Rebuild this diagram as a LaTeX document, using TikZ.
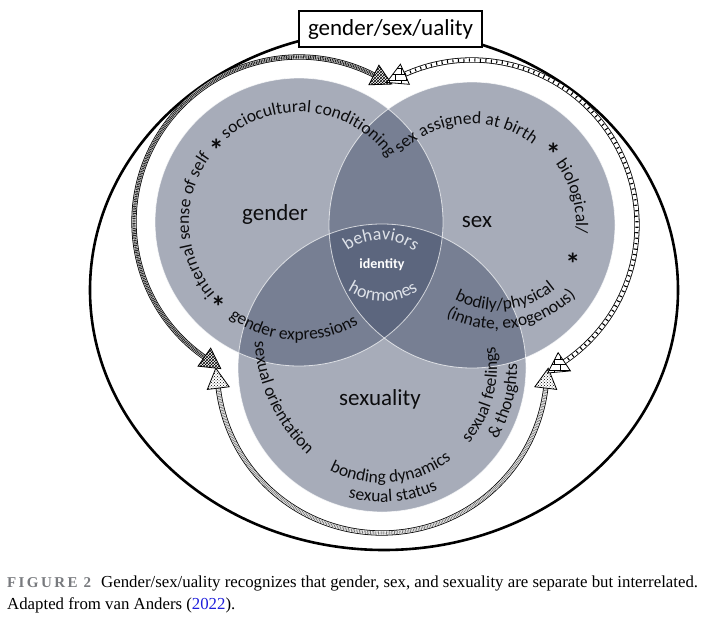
\documentclass[tikz,border=0pt]{standalone}
\usepackage{fontspec}
\setmainfont{Carlito}
\newfontfamily\capfont{Liberation Serif}
\usetikzlibrary{calc,patterns,decorations.text}
\definecolor{circfill}{RGB}{60,72,100}
\definecolor{txtdark}{RGB}{12,12,14}
\definecolor{lenstxt}{RGB}{222,226,233}
\definecolor{capgray}{RGB}{120,122,126}
\definecolor{refblue}{RGB}{30,30,220}
\newcommand{\curvefont}{\fontsize{17.5}{17.5}\selectfont}
\newcommand{\lensfont}{\fontsize{18}{18}\selectfont}
\newcommand{\bigfont}{\fontsize{23}{23}\selectfont}
\newcommand{\starfont}{\bfseries\fontsize{30}{30}\selectfont}
\def\arctext[#1](#2)(#3:#4:#5)#6{\path[decorate,decoration={text along path,text align=center,#1,text={#6}}] ($(#2)+(#3:#5pt)$) arc (#3:#4:#5pt);}
\def\arrowhd(#1)(#2)#3{\draw[line width=0.8pt,pattern=#3,preaction={fill=white}] ($(#1)+(#2+90:11pt)$) -- ($(#1)+(#2:20pt)$) -- ($(#1)+(#2-90:11pt)$) -- cycle;}
\tikzset{
  venn/.style={fill=circfill, fill opacity=0.45},
  rim/.style={draw=white, draw opacity=0.7, line width=0.8pt},
  rail/.style={draw=black, solid, line width=0.8pt, double=white, double distance=3.6pt},
  gshaft/.style={draw=black!85, line width=3.2pt, dash pattern=on 1pt off 0.7pt, preaction={rail}},
  sshaft/.style={draw=black, line width=3.2pt, dash pattern=on 1.1pt off 4.4pt, preaction={rail}},
  xshaft/.style={draw=black!55, line width=3.2pt, dash pattern=on 0.7pt off 0.9pt, preaction={rail}},
  bigname/.style={text=txtdark, font=\bigfont},
  star/.style={text=txtdark, font=\starfont, inner sep=0pt},
}

\begin{document}
\begin{tikzpicture}[x=1pt,y=1pt]
		%%%%% START %%%%%
		\useasboundingbox (0,0) rectangle (712,-618);
		
		\coordinate (gC) at (299,-222);
		\coordinate (sC) at (472,-225);
		\coordinate (xC) at (382,-368);
		\coordinate (oC) at (419,-334);
		\coordinate (bC) at (497,-218);
		\coordinate (hiC) at (381,-296);
		\coordinate (loC) at (383,-237);
		
		% the three circles
		\fill[venn] (gC) circle (144pt);
		\fill[venn] (sC) circle (143pt);
		\fill[venn] (xC) circle (144pt);
		\draw[rim] (gC) circle (144pt);
		\draw[rim] (sC) circle (143pt);
		\draw[rim] (xC) circle (144pt);
		
		% outer loop and title
		\draw[line width=2.6pt] (384,-290) ellipse [x radius=294pt, y radius=260pt];
		\node[draw, line width=2.8pt, fill=white, minimum width=183pt, minimum height=36pt, font=\bigfont] (title) at (390.5,-29) {gender/sex/uality};
		
		\node[bigname] (gender) at (275,-214) {gender};
		\node[bigname] (sex) at (477,-222) {sex};
		\node[bigname] (sexuality) at (380,-399) {sexuality};
		\node[text=white, font=\bfseries\fontsize{14}{14}\selectfont] (identity) at (382,-265) {identity};
		
		% gender
		\arctext[text color=txtdark](gC)(272:92:110){|\curvefont|internal sense of self}
		\arctext[text color=txtdark](gC)(173:-6:110){|\curvefont|sociocultural conditioning}
		\node[star] (starG1) at ($(gC)+(136.5:114pt)+(0,-6)$) {*};
		\arctext[text color=txtdark](gC)(207:327:118){|\curvefont|gender expressions}
		\node[star] (starG2) at ($(gC)+(224.5:113pt)+(0,-6)$) {*};
		
		% sex
		\arctext[text color=txtdark](sC)(164:24:101){|\curvefont|sex assigned at birth}
		\arctext[text color=txtdark](sC)(56:-24:104){|\curvefont|biological/}
		\node[star] (starS1) at ($(sC)+(43.5:112pt)+(0,-6)$) {*};
		\node[star] (starS2) at ($(sC)+(-18:106pt)+(0,-6)$) {*};
		\arctext[text color=txtdark](bC)(216:336:92){|\curvefont|bodily/physical}
		\arctext[text color=txtdark](bC)(209:349:111){|\curvefont|(innate, exogenous)}
		
		% sexuality
		\arctext[text color=txtdark](oC)(150:260:164.5){|\curvefont|sexual orientation}
		\arctext[text color=txtdark](xC)(-70:40:115){|\curvefont|sexual feelings}
		\arctext[text color=txtdark](xC)(-60:30:135){|\curvefont|{\&} thoughts}
		\arctext[text color=txtdark](xC)(215:335:115){|\curvefont|bonding dynamics}
		\arctext[text color=txtdark](xC)(225:325:134){|\curvefont|sexual status}
		
		% middle
		\arctext[text color=lenstxt](hiC)(160:20:56){|\lensfont|behaviors}
		\arctext[text color=lenstxt](loC)(200:340:64){|\lensfont|hormones}
		
		% arrows
		\coordinate (gA) at ($(gC)+(235:165pt)$);
		\coordinate (gB) at ($(gC)+(63:165pt)$);
		\coordinate (sA) at ($(sC)+(114:165pt)$);
		\coordinate (sB) at ($(sC)+(-56:165pt)$);
		\coordinate (xA) at ($(xC)+(187:165pt)$);
		\coordinate (xB) at ($(xC)+(353:165pt)$);
		
		\draw[xshaft] (xA) arc (187:353:165pt);
		\draw[gshaft] (gA) arc (235:63:165pt);
		\draw[sshaft] (sA) arc (114:-56:165pt);
		
		\arrowhd(xA)(97){crosshatch dots}
		\arrowhd(xB)(83){crosshatch dots}
		\arrowhd(gA)(325){crosshatch}
		\arrowhd(gB)(-27){crosshatch}
		\arrowhd(sA)(204){bricks}
		\arrowhd(sB)(-146){bricks}
		
		% caption
		\node[anchor=base west, inner sep=0] (cap1) at (7,-587) {\capfont\fontsize{16.8}{16.8}\selectfont{\color{capgray}\bfseries\addfontfeature{LetterSpace=16}\fontsize{15}{15}\selectfont FIGURE 2}\hspace{10pt}Gender/sex/uality recognizes that gender, sex, and sexuality are separate but interrelated.};
		\node[anchor=base west, inner sep=0] (cap2) at (7,-609) {\capfont\fontsize{16.8}{16.8}\selectfont Adapted from van Anders ({\color{refblue}2022}).};
		
		%%%%% END %%%%%
\end{tikzpicture}
\end{document}
